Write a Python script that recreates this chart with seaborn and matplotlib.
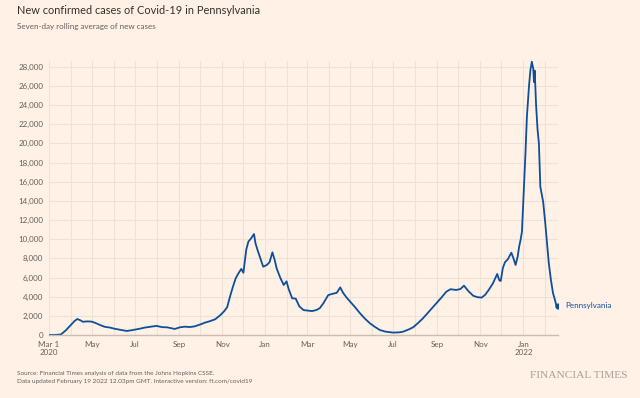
import pandas as pd
import numpy as np
import matplotlib
matplotlib.use("Agg")
import matplotlib.pyplot as plt
import matplotlib.dates as mdates
import matplotlib.ticker as mticker
import seaborn as sns

# seven-day rolling average
dates = [
    "2020-03-01", "2020-03-10", "2020-03-18", "2020-03-25", "2020-04-01", "2020-04-06",
    "2020-04-10", "2020-04-14", "2020-04-18", "2020-04-24", "2020-04-30", "2020-05-06",
    "2020-05-12", "2020-05-19", "2020-05-26", "2020-06-02", "2020-06-10", "2020-06-19",
    "2020-06-26", "2020-07-05", "2020-07-15", "2020-07-25", "2020-07-31", "2020-08-08",
    "2020-08-15", "2020-08-26", "2020-09-02", "2020-09-09", "2020-09-16", "2020-09-23",
    "2020-10-01", "2020-10-08", "2020-10-15", "2020-10-22", "2020-10-29", "2020-11-04",
    "2020-11-08", "2020-11-12", "2020-11-16", "2020-11-20", "2020-11-24", "2020-11-28",
    "2020-12-01", "2020-12-05", "2020-12-08", "2020-12-12", "2020-12-16", "2020-12-18",
    "2020-12-21", "2020-12-25", "2020-12-29", "2021-01-03", "2021-01-07", "2021-01-11",
    "2021-01-14", "2021-01-17", "2021-01-22", "2021-01-27", "2021-01-31", "2021-02-03",
    "2021-02-08", "2021-02-13", "2021-02-18", "2021-02-24", "2021-03-02", "2021-03-08",
    "2021-03-14", "2021-03-19", "2021-03-24", "2021-03-31", "2021-04-06", "2021-04-12",
    "2021-04-17", "2021-04-21", "2021-04-26", "2021-05-01", "2021-05-08", "2021-05-15",
    "2021-05-22", "2021-05-29", "2021-06-05", "2021-06-12", "2021-06-20", "2021-07-01",
    "2021-07-10", "2021-07-15", "2021-07-22", "2021-07-29", "2021-08-05", "2021-08-12",
    "2021-08-20", "2021-08-31", "2021-09-07", "2021-09-14", "2021-09-20", "2021-09-28",
    "2021-10-04", "2021-10-09", "2021-10-15", "2021-10-22", "2021-10-28", "2021-11-03",
    "2021-11-08", "2021-11-13", "2021-11-19", "2021-11-25", "2021-11-28", "2021-11-30",
    "2021-12-03", "2021-12-06", "2021-12-10", "2021-12-15", "2021-12-18", "2021-12-21",
    "2021-12-24", "2021-12-26", "2021-12-28", "2021-12-30", "2022-01-01", "2022-01-04",
    "2022-01-06", "2022-01-09", "2022-01-11", "2022-01-13", "2022-01-15", "2022-01-16",
    "2022-01-17", "2022-01-19", "2022-01-21", "2022-01-23", "2022-01-25", "2022-01-29",
    "2022-02-01", "2022-02-04", "2022-02-06", "2022-02-09", "2022-02-12", "2022-02-15",
    "2022-02-17", "2022-02-19",
]
cases = [
    0, 5, 60, 500, 1050, 1450,
    1670, 1550, 1380, 1420, 1400, 1250,
    1050, 850, 780, 650, 540, 420,
    500, 620, 780, 880, 950, 820,
    800, 630, 800, 870, 830, 900,
    1100, 1300, 1450, 1640, 2050, 2500,
    2900, 4000, 5000, 5900, 6440, 6900,
    6500, 8900, 9740, 10100, 10540, 9600,
    8870, 8000, 7130, 7300, 7600, 8630,
    7900, 6960, 6000, 5220, 5600, 4800,
    3830, 3800, 3000, 2600, 2550, 2500,
    2600, 2800, 3300, 4170, 4300, 4400,
    4970, 4400, 3900, 3480, 2900, 2260,
    1700, 1220, 850, 520, 350, 250,
    280, 350, 550, 800, 1250, 1740,
    2400, 3300, 3900, 4520, 4780, 4700,
    4800, 5150, 4600, 4100, 3950, 3900,
    4200, 4700, 5400, 6370, 5700, 5640,
    7000, 7600, 7900, 8590, 8000, 7310,
    8200, 9220, 9900, 10780, 14000, 19000,
    22790, 26000, 27660, 28530, 27800, 26400,
    27600, 24000, 21500, 20000, 15480, 13900,
    11660, 9200, 7480, 5740, 4350, 3580,
    2960, 3030,
]

tick_dates = ["2020-03-01", "2020-05-01", "2020-07-01", "2020-09-01", "2020-11-01", "2021-01-01",
              "2021-03-01", "2021-05-01", "2021-07-01", "2021-09-01", "2021-11-01", "2022-01-01"]
tick_labels = ["Mar 1\n2020", "May", "Jul", "Sep", "Nov", "Jan",
               "Mar", "May", "Jul", "Sep", "Nov", "Jan\n2022"]
y_ticks = list(range(0, 28001, 2000))

df = pd.DataFrame({"date": pd.to_datetime(dates), "cases": cases})

bg = "#FFF1E5"
blue = "#0F4E9B"
grey = "#66605C"

sns.set_style("white")
plt.rcParams["font.family"] = ["Lato", "DejaVu Sans"]

fig = plt.figure(figsize=(6.4, 3.98), dpi=100, facecolor=bg)
ax = fig.add_axes([49 / 640, 1 - 335 / 398, (558 - 49) / 640, (335 - 61) / 398])
ax.set_facecolor(bg)

sns.lineplot(data=df, x="date", y="cases", ax=ax, color=blue, linewidth=1.3)

# end point and label
last = df.iloc[-1]
ax.scatter([last["date"]], [last["cases"]], s=12, color=blue, zorder=5)
ax.annotate("Pennsylvania", (last["date"], last["cases"]), xytext=(5, 0),
            textcoords="offset points", va="center", fontsize=5.8, color=blue,
            annotation_clip=False)

ax.set_xlim(pd.Timestamp("2020-03-01"), pd.Timestamp("2022-02-19"))
ax.set_ylim(0, 28600)
ax.set_xticks(pd.to_datetime(tick_dates))
ax.set_xticklabels(tick_labels)
ax.xaxis.set_minor_locator(mdates.MonthLocator())
ax.set_yticks(y_ticks)
ax.yaxis.set_major_formatter(mticker.FuncFormatter(lambda v, p: f"{int(v):,}"))

ax.grid(True, which="both", axis="x", color="#EDE2D6", linewidth=0.8)
ax.grid(True, which="major", axis="y", color="#EDE2D6", linewidth=0.8)
ax.tick_params(axis="both", which="both", length=0, labelsize=5.8, labelcolor=grey)
ax.tick_params(axis="x", pad=4)
ax.tick_params(axis="y", pad=4)
ax.set_xlabel("")
ax.set_ylabel("")
for side in ["top", "right", "left"]:
    ax.spines[side].set_visible(False)
ax.spines["bottom"].set_color("#C9BDB2")
ax.spines["bottom"].set_linewidth(1)

# titles and footer
fig.text(17 / 640, 1 - 11 / 398, "New confirmed cases of Covid-19 in Pennsylvania",
         fontsize=7.9, color="#33302E", va="center")
fig.text(17 / 640, 1 - 27 / 398, "Seven-day rolling average of new cases",
         fontsize=5.8, color=grey, va="center")
fig.text(17 / 640, 1 - 374 / 398, "Source: Financial Times analysis of data from the Johns Hopkins CSSE.",
         fontsize=4.6, color=grey, va="center")
fig.text(17 / 640, 1 - 382 / 398, "Data updated February 19 2022 12.03pm GMT. Interactive version: ft.com/covid19",
         fontsize=4.6, color=grey, va="center")
fig.text(628 / 640, 1 - 375 / 398, "FINANCIAL TIMES", fontsize=8.2, color="#A8A09A",
         family="Liberation Serif", ha="right", va="center")

fig.savefig("out.png", dpi=100, facecolor=bg)
